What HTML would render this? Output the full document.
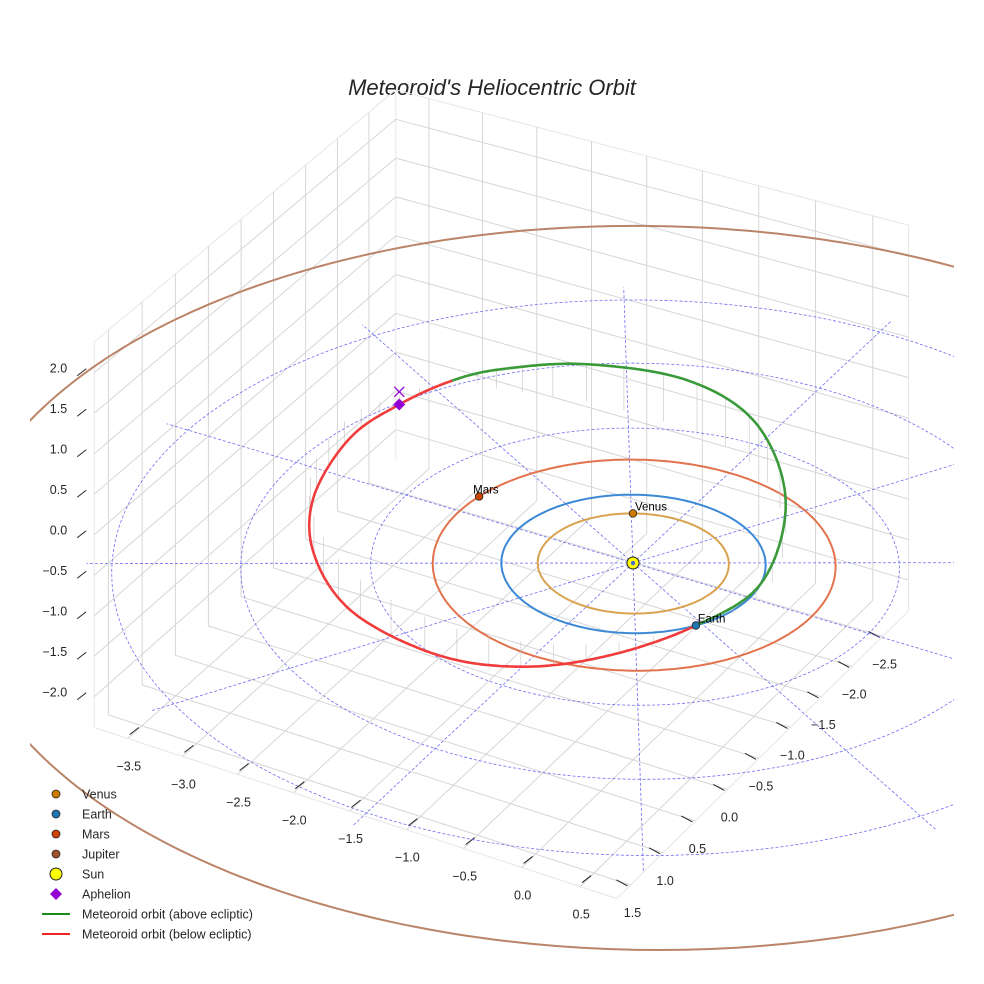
<!DOCTYPE html>
<html><head><meta charset="utf-8"><title>Meteoroid's Heliocentric Orbit</title>
<style>
html,body{margin:0;padding:0;background:#fff;}
svg{display:block;font-family:"Liberation Sans",sans-serif;}
</style></head>
<body>
<svg id="chart" width="984" height="984" viewBox="0 0 984 984" xmlns="http://www.w3.org/2000/svg">
<defs><clipPath id="clipAx"><rect x="30" y="0" width="924" height="984"/></clipPath></defs>
<text x="492" y="95" text-anchor="middle" font-size="22" font-style="italic" fill="#262626">Meteoroid's Heliocentric Orbit</text>
<g id="grid"></g>
<g id="axes"></g>
<g id="plot" clip-path="url(#clipAx)"></g>
<g id="legend"></g>
</svg>
<script>
// ---- data ----
const xTicks = [-3.5, -3.0, -2.5, -2.0, -1.5, -1.0, -0.5, 0.0, 0.5];
const yTicks = [-2.5, -2.0, -1.5, -1.0, -0.5, 0.0, 0.5, 1.0, 1.5];
const zTicks = [-2.0, -1.5, -1.0, -0.5, 0.0, 0.5, 1.0, 1.5, 2.0];
const planetNames = ["Venus", "Earth", "Mars", "Jupiter"];
const planetRadii = [0.723, 1.0, 1.524, 5.203];
const planetAngles = [241, 33, 190, null];
const gridRadii = [1, 2, 3, 4];
const gridAngles = [0, 30, 60, 90, 120, 150, 180, 210, 240, 270, 300, 330];
// meteoroid orbit sample points (AU), starting at Earth crossing
const orbitX = [0.839, 1.063, 0.794, 0.148, -0.599, -1.482, -2.131, -2.560, -2.812, -2.989, -2.863, -2.468, -1.782, -0.883, -0.183, 0.385];
const orbitY = [0.545, -0.077, -0.954, -1.679, -1.939, -1.922, -1.760, -1.699, -1.280, -0.810, -0.042, 0.618, 1.193, 1.470, 1.399, 1.081];
const orbitZ = [0.0, 0.16, 0.40, 0.56, 0.61, 0.47, 0.27, 0.0, -0.11, -0.27, -0.40, -0.47, -0.47, -0.40, -0.30, -0.16];
const aphelion = [-2.812, -1.280, -0.11];

// ---- projection ----
const XMIN=-3.81, XMAX=0.81, YMIN=-2.93, YMAX=1.71, ZMIN=-2.38, ZMAX=2.38;
const XC=-1.5, YC=-0.61, XH=2.31, YH=2.32, K=0.022, CX=501.4, CY=476.4;
function proj(X,Y,Z){
  const rx=X-XC, ry=Y-YC;
  const f=1/(1-K*(rx/XH+ry/YH));
  return [CX+f*(112*rx-64*ry), CY+f*(33*rx+58*ry-81*Z)];
}
const NS="http://www.w3.org/2000/svg";
function mk(tag, parent, attrs){
  const e=document.createElementNS(NS,tag);
  for(const k in attrs) e.setAttribute(k, attrs[k]);
  parent.appendChild(e); return e;
}
function line3(parent,a,b,attrs){
  const p=proj(a[0],a[1],a[2]), q=proj(b[0],b[1],b[2]);
  return mk('line',parent,Object.assign({x1:p[0].toFixed(1),y1:p[1].toFixed(1),x2:q[0].toFixed(1),y2:q[1].toFixed(1)},attrs));
}
function pathFrom(pts){return pts.map((p,i)=>(i?'L':'M')+p[0].toFixed(1)+' '+p[1].toFixed(1)).join(' ');}

const grid=document.getElementById('grid');
const axes=document.getElementById('axes');
const plot=document.getElementById('plot');
const legend=document.getElementById('legend');
const gs={stroke:'#d6d6d6','stroke-width':1};

const edges=[[[XMIN,YMIN,ZMIN],[XMIN,YMIN,ZMAX]],[[XMIN,YMIN,ZMAX],[XMAX,YMIN,ZMAX]],[[XMIN,YMIN,ZMAX],[XMIN,YMAX,ZMAX]],
 [[XMAX,YMIN,ZMIN],[XMAX,YMIN,ZMAX]],[[XMIN,YMAX,ZMIN],[XMIN,YMAX,ZMAX]],[[XMIN,YMAX,ZMIN],[XMAX,YMAX,ZMIN]],[[XMAX,YMAX,ZMIN],[XMAX,YMIN,ZMIN]]];
edges.forEach(e=>{
  const l=line3(grid,e[0],e[1],{stroke:'#e6e6e6','stroke-width':1});
  
  
});
xTicks.forEach(x=>{
  const l=line3(grid,[x,YMIN,ZMIN],[x,YMAX,ZMIN],gs);
  
  
  const m=line3(grid,[x,YMIN,ZMIN],[x,YMIN,ZMAX],gs);
  
  
});
yTicks.forEach(y=>{
  const l=line3(grid,[XMIN,y,ZMIN],[XMAX,y,ZMIN],gs);
  
  
  const m=line3(grid,[XMIN,y,ZMIN],[XMIN,y,ZMAX],gs);
  
  
});
zTicks.forEach(z=>{
  const l=line3(grid,[XMIN,YMIN,z],[XMAX,YMIN,z],gs);
  
  
  const m=line3(grid,[XMIN,YMIN,z],[XMIN,YMAX,z],gs);
  
  
});

function txt(parent,x,y,s,anchor){
  const t=mk('text',parent,{x:x.toFixed(1),y:y.toFixed(1),'font-size':12.5,fill:'#262626','text-anchor':anchor||'middle'});
  t.textContent=s; return t;
}
function fmt(v){return (v<0?'\u2212':'')+Math.abs(v).toFixed(1);}
xTicks.forEach(x=>{
  const p=proj(x,YMAX,ZMIN);
  const t=mk('line',axes,{x1:p[0]+2,y1:p[1]-4,x2:p[0]+11,y2:p[1]-11,stroke:'#222','stroke-width':1});
  
  
  const l=txt(axes,p[0]+1,p[1]+32,fmt(x));
  
  
});
yTicks.forEach(y=>{
  const p=proj(XMAX,y,ZMIN);
  const t=mk('line',axes,{x1:p[0]-14,y1:p[1]-5,x2:p[0]-3,y2:p[1]+1,stroke:'#222','stroke-width':1});
  
  
  const l=txt(axes,p[0]+2,p[1]+32,fmt(y));
  
  
});
zTicks.forEach(z=>{
  const p=proj(XMIN,YMAX,z);
  const t=mk('line',axes,{x1:p[0]-17,y1:p[1]+3,x2:p[0]-8,y2:p[1]-4,stroke:'#222','stroke-width':1});
  
  
  const l=txt(axes,p[0]-27,p[1]+0,fmt(z),'end');
  
  
});

function circlePts(r,n){const a=[];for(let i=0;i<=n;i++){const t=i/n*2*Math.PI;a.push(proj(r*Math.cos(t),r*Math.sin(t),0));}return a;}

const planetOrbitColors=['#d9a24f','#3b89d6','#e2734d','#bb8468'];
const jp=mk('path',plot,{d:pathFrom(circlePts(planetRadii[3],360)),fill:'none',stroke:planetOrbitColors[3],'stroke-width':2});



gridRadii.forEach(r=>{
  const c=mk('path',plot,{d:pathFrom(circlePts(r,240)),fill:'none',stroke:'#5555ee','stroke-width':0.8,'stroke-dasharray':'3,2','stroke-opacity':0.85});
  
  
});
gridAngles.forEach(a=>{
  const t=a*Math.PI/180, R=4.2;
  const l=line3(plot,[0,0,0],[R*Math.cos(t),R*Math.sin(t),0],{stroke:'#5555ee','stroke-width':0.8,'stroke-dasharray':'3,2','stroke-opacity':0.85});
  
  
});

[0,1,2].forEach(i=>{
  const o=mk('path',plot,{d:pathFrom(circlePts(planetRadii[i],240)),fill:'none',stroke:planetOrbitColors[i],'stroke-width':2});
  
  
});

const N=orbitX.length, SUB=24, samples=[];
for(let i=0;i<N;i++){
  const i0=(i-1+N)%N,i1=i,i2=(i+1)%N,i3=(i+2)%N;
  for(let s=0;s<SUB;s++){
    const t=s/SUB,t2=t*t,t3=t2*t;
    const cr=(a,b,c,d)=>0.5*((2*b)+(-a+c)*t+(2*a-5*b+4*c-d)*t2+(-a+3*b-3*c+d)*t3);
    samples.push([cr(orbitX[i0],orbitX[i1],orbitX[i2],orbitX[i3]),cr(orbitY[i0],orbitY[i1],orbitY[i2],orbitY[i3]),cr(orbitZ[i0],orbitZ[i1],orbitZ[i2],orbitZ[i3])]);
  }
}
samples.push(samples[0]);
for(let j=3;j<samples.length-1;j+=9){
  const s=samples[j];
  const l=line3(plot,s,[s[0],s[1],0],{stroke:'#c4c4c4','stroke-width':0.6});
  
  
}
let seg=[], segAbove=null;
function flush(){
  if(seg.length>1){
    const p=mk('path',plot,{d:pathFrom(seg.map(s=>proj(s[0],s[1],s[2]))),fill:'none',stroke:segAbove?'#3a9a3a':'#f03c3c','stroke-width':2.6,'stroke-linecap':'round'});
    
    
  }
}
samples.forEach((s,k)=>{
  const above=s[2]>=0;
  if(segAbove===null) segAbove=above;
  if(above!==segAbove){seg.push(s);flush();seg=[seg[seg.length-1]];segAbove=above;}
  else seg.push(s);
});
flush();

const sp=proj(0,0,0);
const sun=mk('circle',plot,{cx:sp[0],cy:sp[1],r:6,fill:'#ffff00',stroke:'#222','stroke-width':1});


const sunIn=mk('circle',plot,{cx:sp[0],cy:sp[1],r:2.2,fill:'#4a6fd0'});



const planetColors=['#cc7a00','#1f77b4','#cc4400','#a0522d'];
[0,1,2].forEach(i=>{
  const t=planetAngles[i]*Math.PI/180;
  const p=proj(planetRadii[i]*Math.cos(t),planetRadii[i]*Math.sin(t),0);
  const c=mk('circle',plot,{cx:p[0],cy:p[1],r:3.8,fill:planetColors[i],stroke:'#222','stroke-width':0.8});
  
  
  const l=mk('text',plot,{x:p[0]+(i===2?-6:2),y:p[1]-3,'font-size':11.5,fill:'#000'});
  l.textContent=planetNames[i];
  
  
});

const ap=proj(aphelion[0],aphelion[1],aphelion[2]);
const dia=mk('path',plot,{d:`M${ap[0]} ${ap[1]-6}L${ap[0]+6} ${ap[1]}L${ap[0]} ${ap[1]+6}L${ap[0]-6} ${ap[1]}Z`,fill:'#9400d3'});


const ax=proj(aphelion[0],aphelion[1],aphelion[2]+0.16);
const cross=mk('path',plot,{d:`M${ax[0]-5} ${ax[1]-5}L${ax[0]+5} ${ax[1]+5}M${ax[0]+5} ${ax[1]-5}L${ax[0]-5} ${ax[1]+5}`,stroke:'#9400d3','stroke-width':1.3});



const legendLabels=['Venus','Earth','Mars','Jupiter','Sun','Aphelion','Meteoroid orbit (above ecliptic)','Meteoroid orbit (below ecliptic)'];
legendLabels.forEach((s,i)=>{
  const y=794+i*20;
  let m;
  if(i<4){m=mk('circle',legend,{cx:56,cy:y,r:4,fill:planetColors[i],stroke:'#222','stroke-width':0.8});}
  else if(i===4){m=mk('circle',legend,{cx:56,cy:y,r:6,fill:'#ffff00',stroke:'#222','stroke-width':1});}
  else if(i===5){m=mk('path',legend,{d:`M56 ${y-6}L62 ${y}L56 ${y+6}L50 ${y}Z`,fill:'#9400d3'});}
  else {m=mk('line',legend,{x1:42,y1:y,x2:70,y2:y,stroke:i===6?'#1a8a1a':'#ee2222','stroke-width':2});}
  
  
  const t=mk('text',legend,{x:82,y:y+4.5,'font-size':12.5,fill:'#262626'});
  t.textContent=s;
  
  
});
</script>
</body></html>
